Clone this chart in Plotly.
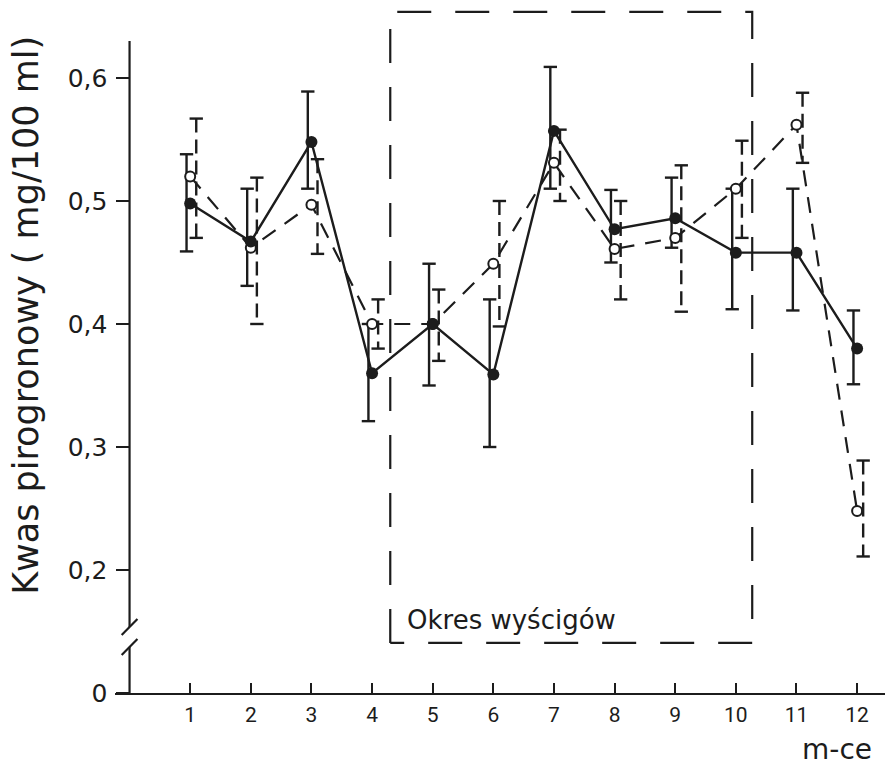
import plotly.graph_objects as go

# ---- data -------------------------------------------------------------
months = list(range(1, 13))
month_labels = [str(m) for m in months]

# series drawn with filled circles and a solid line
solid_mean = [0.498, 0.467, 0.548, 0.360, 0.400, 0.359, 0.557, 0.477, 0.486, 0.458, 0.458, 0.380]
solid_low = [0.459, 0.431, 0.510, 0.321, 0.350, 0.300, 0.510, 0.450, 0.462, 0.412, 0.411, 0.351]
solid_high = [0.538, 0.510, 0.589, 0.400, 0.449, 0.420, 0.609, 0.509, 0.519, 0.510, 0.510, 0.411]

# series drawn with open circles and a dashed line
dashed_mean = [0.520, 0.462, 0.497, 0.400, 0.400, 0.449, 0.531, 0.461, 0.470, 0.510, 0.562, 0.248]
dashed_low = [0.470, 0.400, 0.457, 0.380, 0.370, 0.398, 0.500, 0.420, 0.410, 0.470, 0.531, 0.211]
dashed_high = [0.567, 0.519, 0.534, 0.420, 0.428, 0.500, 0.558, 0.500, 0.529, 0.549, 0.588, 0.289]

y_tick_values = [0.2, 0.3, 0.4, 0.5, 0.6]
y_tick_labels = ["0,2", "0,3", "0,4", "0,5", "0,6"]

# racing season (months, in axis units) and its frame height
race_start, race_end = 4.30, 10.27
race_bottom, race_top = 0.1407, 0.6537

# ---- broken y axis: the value 0 is drawn one step below 0,2 -----------
ZERO_POS = 0.1
BREAK_LOW, BREAK_HIGH = 0.1374, 0.1537
AXIS_TOP = 0.6300

INK = "#1c1c1c"
FONT = "DejaVu Sans"
DIGITS = "Roboto"


def error_paths(xs, lo, hi, dx, cap):
    vx, vy, cx, cy = [], [], [], []
    for x, l, h in zip(xs, lo, hi):
        xb = x + dx
        vx += [xb, xb, None]
        vy += [h, l, None]
        cx += [xb - cap, xb + cap, None, xb - cap, xb + cap, None]
        cy += [h, h, None, l, l, None]
    return vx, vy, cx, cy


fig = go.Figure()

# racing-season frame
fig.add_trace(go.Scatter(
    x=[race_start, race_start, race_end, race_end, race_start],
    y=[race_bottom, race_top, race_top, race_bottom, race_bottom],
    mode="lines", line=dict(color=INK, width=2.2, dash="34px,24px"),
    hoverinfo="skip", showlegend=False))

# y axis line with break marks
fig.add_trace(go.Scatter(
    x=[0, 0, None, 0, 0],
    y=[ZERO_POS, BREAK_LOW, None, BREAK_HIGH, AXIS_TOP],
    mode="lines", line=dict(color=INK, width=2.2),
    hoverinfo="skip", showlegend=False))
fig.add_trace(go.Scatter(
    x=[-0.13, 0.13, None, -0.13, 0.13],
    y=[BREAK_HIGH - 0.0065, BREAK_HIGH + 0.0065, None, BREAK_LOW - 0.0065, BREAK_LOW + 0.0065],
    mode="lines", line=dict(color=INK, width=2.2),
    hoverinfo="skip", showlegend=False))

# error bars, dashed series (dashed stems, solid caps)
vx, vy, cx, cy = error_paths(months, dashed_low, dashed_high, 0.10, 0.11)
fig.add_trace(go.Scatter(x=vx, y=vy, mode="lines",
                         line=dict(color=INK, width=2.4, dash="14px,7px"),
                         hoverinfo="skip", showlegend=False))
fig.add_trace(go.Scatter(x=cx, y=cy, mode="lines",
                         line=dict(color=INK, width=2.4),
                         hoverinfo="skip", showlegend=False))

# error bars, solid series
vx, vy, cx, cy = error_paths(months, solid_low, solid_high, -0.06, 0.11)
fig.add_trace(go.Scatter(x=vx + cx, y=vy + cy, mode="lines",
                         line=dict(color=INK, width=2.4),
                         hoverinfo="skip", showlegend=False))

# dashed series
fig.add_trace(go.Scatter(
    x=months, y=dashed_mean, mode="lines+markers",
    line=dict(color=INK, width=2.2, dash="16px,11px"),
    marker=dict(symbol="circle", size=10, color="white", line=dict(color=INK, width=2)),
    showlegend=False))

# solid series
fig.add_trace(go.Scatter(
    x=months, y=solid_mean, mode="lines+markers",
    line=dict(color=INK, width=2.4),
    marker=dict(symbol="circle", size=12, color=INK),
    showlegend=False))

fig.add_annotation(x=4.55, y=0.1593, xref="x", yref="y", text="Okres wyścigów",
                   showarrow=False, xanchor="left", yanchor="middle",
                   font=dict(family=FONT, size=26, color=INK))
fig.add_annotation(x=11.66, y=-0.082, xref="x", yref="paper", text="m-ce",
                   showarrow=False, xanchor="center", yanchor="middle",
                   font=dict(family=FONT, size=28, color=INK))
fig.add_annotation(x=-0.115, y=0.407, xref="paper", yref="y",
                   text="Kwas pirogronowy ( mg/100 ml)", textangle=-90,
                   showarrow=False, xanchor="center", yanchor="middle",
                   font=dict(family=FONT, size=35, color=INK))

fig.update_layout(
    width=891, height=767,
    margin=dict(l=115, r=6, t=8, b=74),
    paper_bgcolor="white", plot_bgcolor="white",
    font=dict(family=FONT, color=INK),
    xaxis=dict(range=[-0.24, 12.46], showgrid=False, zeroline=False,
               showline=True, linewidth=2.2, linecolor=INK,
               ticks="inside", ticklen=10, tickwidth=2, tickcolor=INK,
               tickvals=months, ticktext=month_labels,
               tickfont=dict(family=DIGITS, size=21, color=INK), ticklabelstandoff=2),
    yaxis=dict(range=[ZERO_POS, 0.6569], showgrid=False, zeroline=False,
               showline=False, anchor="free", position=0.0188,
               ticks="outside", ticklen=13, tickwidth=2.2, tickcolor=INK,
               tickvals=[ZERO_POS] + y_tick_values, ticktext=["0"] + y_tick_labels,
               tickfont=dict(size=25, color=INK), ticklabelstandoff=4),
)

fig.write_html("out.html")
